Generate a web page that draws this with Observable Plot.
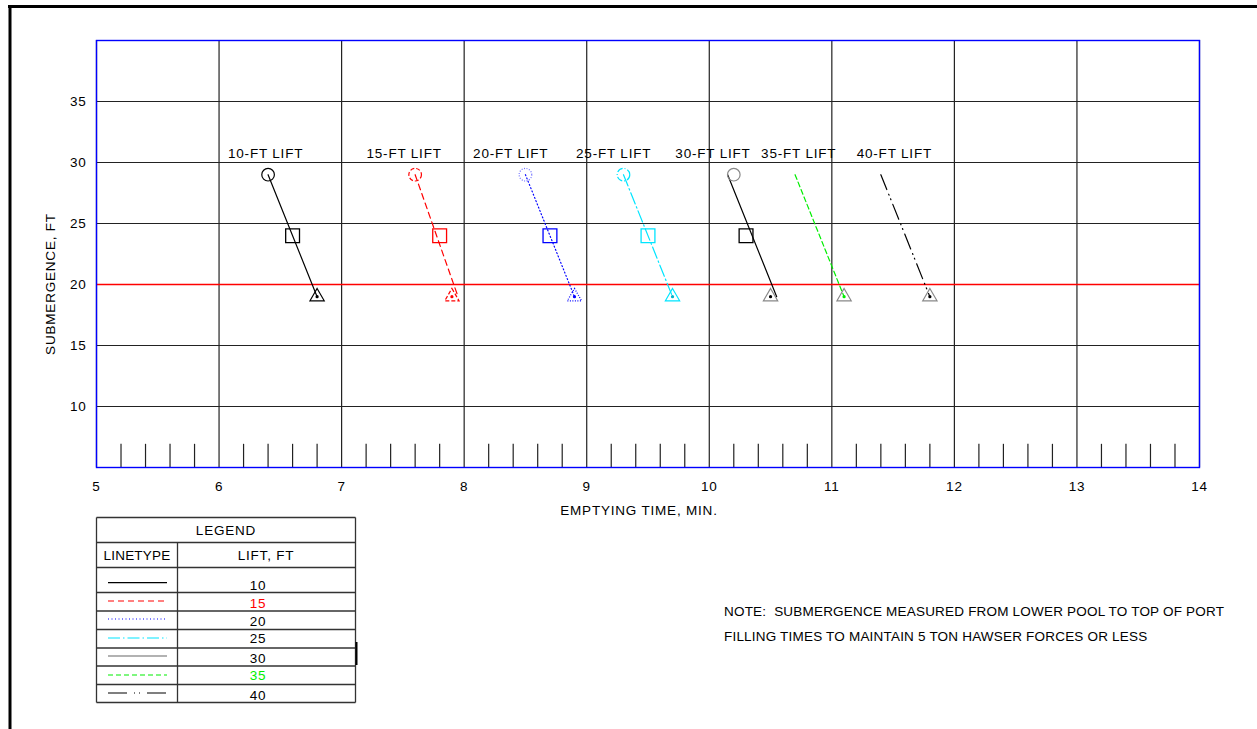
<!DOCTYPE html>
<html><head><meta charset="utf-8">
<script src="https://cdn.jsdelivr.net/npm/d3@7"></script>
<script src="https://cdn.jsdelivr.net/npm/@observablehq/plot@0.6"></script>
<style>
body{margin:0;background:#fff;}
#chart{width:1257px;height:729px;}
svg text{letter-spacing:0.8px;}
</style></head><body><div id="chart"></div>
<script>
// ---- data ----
const lifts = [10, 15, 20, 25, 30, 35, 40];
const liftLabels = ["10-FT LIFT", "15-FT LIFT", "20-FT LIFT", "25-FT LIFT", "30-FT LIFT", "35-FT LIFT", "40-FT LIFT"];
const labelTime = [6.38, 7.51, 8.38, 9.22, 10.03, 10.73, 11.51];
const circleTime = [6.4, 7.6, 8.5, 9.3, 10.2, null, null];
const squareTime = [6.6, 7.8, 8.7, 9.5, 10.3, null, null];
const triangleTime = [6.8, 7.9, 8.9, 9.7, 10.5, 11.1, 11.8];
const lineStartTime = [6.4, 7.6, 8.5, 9.3, 10.15, 10.7, 11.4];
const lineEndTime = [6.8, 7.95, 8.9, 9.7, 10.55, 11.1, 11.8];
const circleSub = 29, squareSub = 24, triangleSub = 19;
const lineTopSub = 29, lineBottomSub = 19;
const labelSub = 30;
const criticalSub = 20;
const xTicks = [5, 6, 7, 8, 9, 10, 11, 12, 13, 14];
const yTicks = [10, 15, 20, 25, 30, 35];
const minorFractions = [0.2, 0.4, 0.6, 0.8];
const minorTicks = xTicks.slice(0, -1).flatMap(t => minorFractions.map(f => +(t + f).toFixed(1)));
const minorTickTop = 6.9;
const xTitle = "EMPTYING TIME, MIN.";
const yTitle = "SUBMERGENCE, FT";
const noteLines = ["NOTE:  SUBMERGENCE MEASURED FROM LOWER POOL TO TOP OF PORT",
                   "FILLING TIMES TO MAINTAIN 5 TON HAWSER FORCES OR LESS"];

// ---- styles ----
const lineColor = ["black", "red", "blue", "#00e5ff", "black", "#00ee00", "black"];
const lineDash = [null, "6,4", "1,2.5", "12,3,1.5,3", null, "5,3", "16,5,1,4,1,5"];
const legendDash = [null, "6,4", "1,2.5", "12,3,1.5,3", null, "5,3", "19,7,1,4,1,7"];
const circleColor = ["black", "red", "#7070ff", "#00e5ff", "#888"];
const circleDash = [null, "4,2", "1,1.5", "6,2,1,2", null];
const squareColor = ["black", "red", "blue", "#00e5ff", "black"];
const triColor = ["black", "red", "blue", "#00e5ff", "#888", "#888", "#888"];
const triDash = [null, "4,2", "1,1.5", null, null, null, null];
const dotColor = ["black", "red", "blue", "#00b5cc", "black", "#00ee00", "black"];
const legendLineColor = ["black", "red", "blue", "#00e5ff", "#666", "#00ee00", "black"];
const legendTextColor = ["black", "red", "black", "black", "black", "#00ee00", "black"];
const FONT = "'Liberation Sans', Arial, sans-serif";

const rows = lifts.map((lift, i) => ({
  i, lift, label: liftLabels[i], labelX: labelTime[i],
  circle: circleTime[i], square: squareTime[i], tri: triangleTime[i]
}));

const marks = [
  Plot.gridX(xTicks, {stroke: "#222", strokeOpacity: 1, strokeWidth: 1.2}),
  Plot.gridY(yTicks, {stroke: "#222", strokeOpacity: 1, strokeWidth: 1.2}),
  Plot.ruleX(minorTicks, {y1: 5, y2: minorTickTop, stroke: "#222", strokeWidth: 1.2}),
  Plot.ruleY([criticalSub], {stroke: "red", strokeWidth: 1.4}),
  Plot.frame({stroke: "blue", strokeWidth: 1.4}),
  Plot.axisX({ticks: xTicks, tickSize: 0, tickPadding: 14, tickFormat: d => String(d), label: null}),
  Plot.axisY({ticks: yTicks, tickSize: 0, tickPadding: 10, tickFormat: d => String(d), label: null}),
  Plot.text(rows, {x: "labelX", y: () => labelSub, dy: -9, text: "label", fill: "black"})
];

rows.forEach(r => {
  const i = r.i;
  marks.push(Plot.line([{t: lineStartTime[i], s: lineTopSub}, {t: lineEndTime[i], s: lineBottomSub}],
    {x: "t", y: "s", stroke: lineColor[i], strokeWidth: 1.2, strokeDasharray: lineDash[i] || undefined}));
  if (r.circle != null) {
    marks.push(Plot.dot([r], {x: "circle", y: () => circleSub, symbol: "circle", r: 6.3, fill: "none",
      stroke: circleColor[i], strokeWidth: 1.2, strokeDasharray: circleDash[i] || undefined}));
  }
  if (r.square != null) {
    marks.push(Plot.dot([r], {x: "square", y: () => squareSub, symbol: "square", r: 7.8, fill: "none",
      stroke: squareColor[i], strokeWidth: 1.3}));
  }
  marks.push(Plot.dot([r], {x: "tri", y: () => triangleSub, symbol: "triangle", r: 5.3, fill: "none",
    stroke: triColor[i], strokeWidth: 1.2, strokeDasharray: triDash[i] || undefined}));
  marks.push(Plot.dot([r], {x: "tri", y: () => triangleSub, r: 1.6, fill: dotColor[i], stroke: "none"}));
});

const svg = Plot.plot({
  width: 1257, height: 729,
  marginLeft: 96, marginRight: 58, marginTop: 40, marginBottom: 262,
  x: {domain: [5, 14]},
  y: {domain: [5, 40]},
  style: {fontFamily: FONT, fontSize: "13.5px", background: "white", color: "black", overflow: "visible"},
  marks
});
document.getElementById("chart").appendChild(svg);

// ---- page furniture drawn onto the same svg ----
const s = d3.select(svg);
const g = s.append("g").attr("font-family", FONT).attr("font-size", 13.5).attr("fill", "black").attr("text-anchor", "start");
// drawing sheet border
g.append("line").attr("x1", 8).attr("x2", 1257).attr("y1", 6.5).attr("y2", 6.5).attr("stroke", "black").attr("stroke-width", 3);
g.append("line").attr("x1", 10).attr("x2", 10).attr("y1", 5).attr("y2", 729).attr("stroke", "black").attr("stroke-width", 3);

// axis titles
g.append("text").attr("x", 639).attr("y", 510).attr("dy", "0.35em").attr("text-anchor", "middle").text(xTitle);
g.append("text").attr("transform", "translate(50,284) rotate(-90)").attr("dy", "0.35em").attr("text-anchor", "middle").text(yTitle);

// note
noteLines.forEach((t, k) => {
  g.append("text").attr("x", 724).attr("y", 611 + k * 25).attr("dy", "0.35em").attr("text-anchor", "start")
    .style("letter-spacing", "0.2px").style("white-space", "pre").text(t);
});

// legend table
const L = {x0: 96.5, x1: 177.5, x2: 355.5};
const hLines = [517.5, 542.5, 567.5, 592.5, 611, 629.5, 648, 666, 684.5, 702.5];
const tg = g.append("g").attr("stroke", "#333").attr("stroke-width", 1.3);
hLines.forEach(y => tg.append("line").attr("x1", L.x0).attr("x2", L.x2).attr("y1", y).attr("y2", y));
tg.append("line").attr("x1", L.x0).attr("x2", L.x0).attr("y1", hLines[0]).attr("y2", hLines[hLines.length - 1]);
tg.append("line").attr("x1", L.x2).attr("x2", L.x2).attr("y1", hLines[0]).attr("y2", hLines[hLines.length - 1]);
tg.append("line").attr("x1", L.x1).attr("x2", L.x1).attr("y1", hLines[1]).attr("y2", hLines[hLines.length - 1]);
tg.append("line").attr("x1", L.x2 + 1).attr("x2", L.x2 + 1).attr("y1", 642).attr("y2", 665).attr("stroke", "black").attr("stroke-width", 2);
g.append("text").attr("x", 226).attr("y", 530).attr("dy", "0.35em").attr("text-anchor", "middle").text("LEGEND");
g.append("text").attr("x", 137).attr("y", 555).attr("dy", "0.35em").attr("text-anchor", "middle").style("letter-spacing", "0.2px").text("LINETYPE");
g.append("text").attr("x", 266).attr("y", 555).attr("dy", "0.35em").attr("text-anchor", "middle").text("LIFT, FT");
const sampleY = [582.7, 601, 619, 638, 656, 675, 693];
const textY = [585, 603, 621, 638, 658, 675, 695];
lifts.forEach((lift, i) => {
  g.append("line").attr("x1", 108).attr("x2", 167).attr("y1", sampleY[i]).attr("y2", sampleY[i])
    .attr("stroke", legendLineColor[i]).attr("stroke-width", 1.2)
    .attr("stroke-dasharray", legendDash[i] || null);
  g.append("text").attr("x", 258).attr("y", textY[i]).attr("dy", "0.35em").attr("text-anchor", "middle")
    .attr("fill", legendTextColor[i]).text(String(lift));
});
</script>
</body></html>
